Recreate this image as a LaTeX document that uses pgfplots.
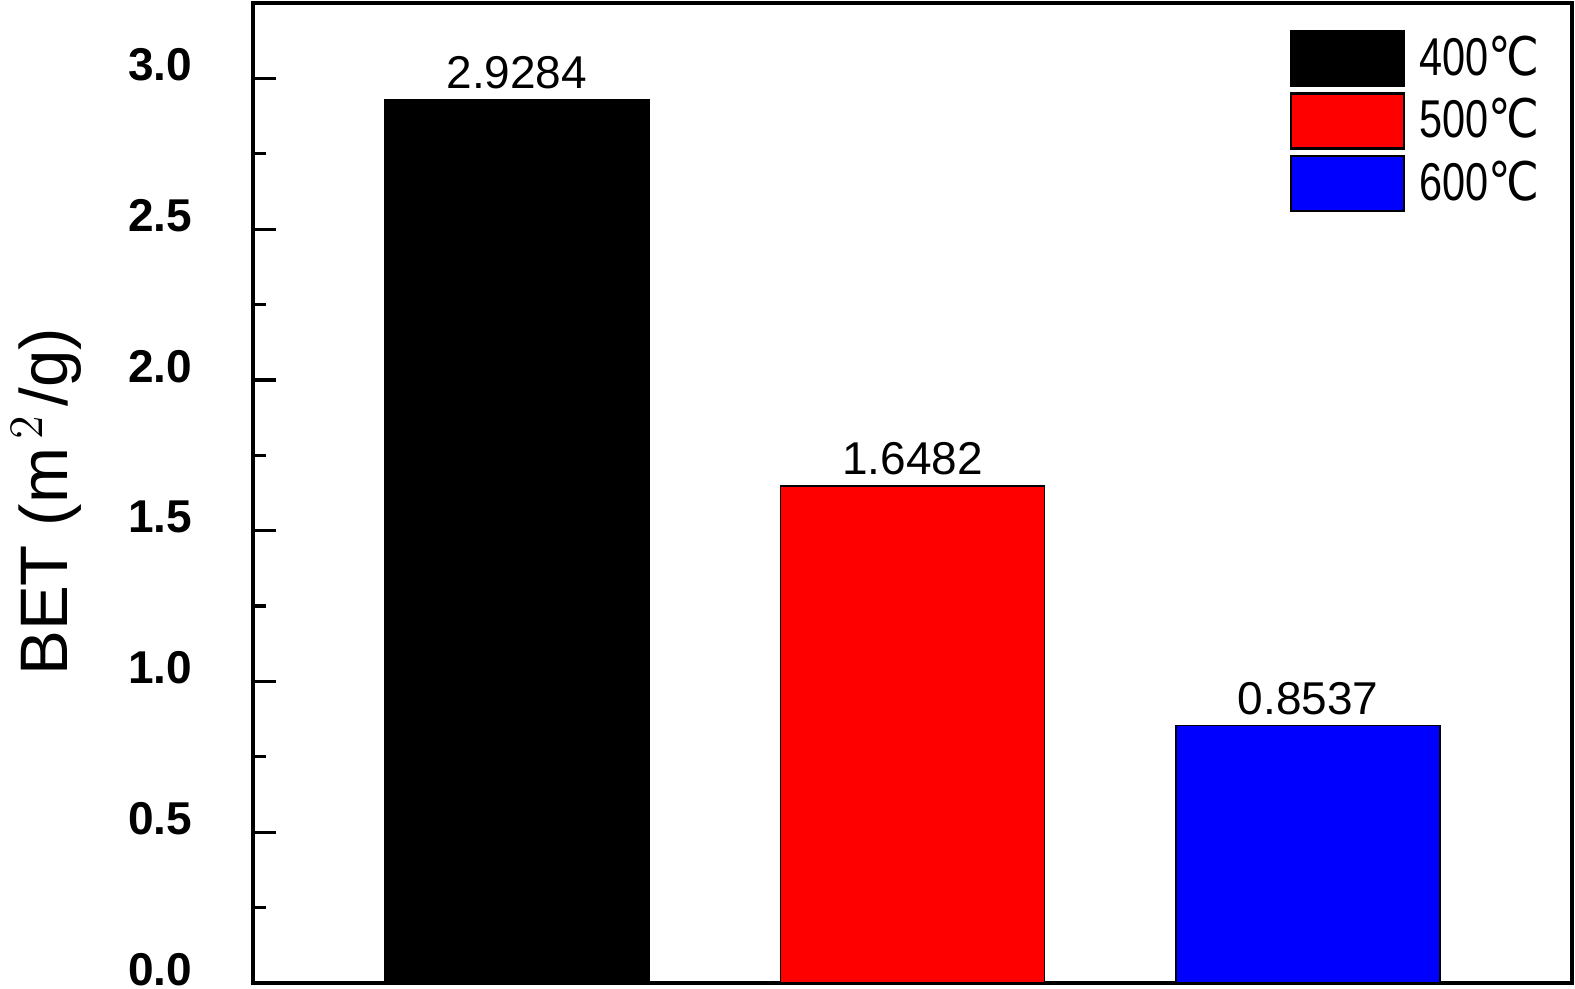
\documentclass[border=0pt]{standalone}
\usepackage{pgfplots}
\pgfplotsset{compat=1.18}
\usepackage{fontspec}
\setmainfont{Liberation Sans}
\newfontfamily\legfont[FakeStretch=0.78]{Liberation Sans}
\newfontfamily\degfont[FakeStretch=0.85]{DejaVu Sans}
\newcommand{\degC}{{\degfont ℃}}
\begin{document}
\begin{tikzpicture}
\begin{axis}[
  name=ax,
  scale only axis,
  width=329.75pt, height=245pt,
  xmin=0.3333, xmax=3.6667,
  ymin=0, ymax=3.25,
  axis line style={line width=1pt},
  xtick=\empty,
  ytick={0,0.5,1,1.5,2,2.5,3},
  minor y tick num=1,
  ytick pos=left,
  tick align=inside,
  major tick length=5.75pt,
  minor tick length=3.3pt,
  every tick/.style={line width=0.8pt, black},
  /pgf/number format/assume math mode=true,
  yticklabel={\pgfmathprintnumber[fixed,fixed zerofill,precision=1]{\tick}},
  yticklabel style={font=\fontsize{11.5}{13}\selectfont\bfseries, inner sep=0pt, xshift=-15pt, yshift=3.4pt},
  ylabel={BET (m$^{\,2\,}$/g)},
  ylabel style={font=\fontsize{16.8}{18}\selectfont, at={(axis description cs:-0.1403,0.491)}, anchor=base, rotate=0},
  ybar, bar width=0.667, bar shift=0pt,
  point meta=explicit symbolic,
  nodes near coords,
  every node near coord/.append style={font=\fontsize{11.5}{13}\selectfont, inner sep=0pt, yshift=2.5pt, anchor=south, black},
  legend image code/.code={\draw[#1, line width=0.6pt] (0pt,-6.875pt) rectangle (28.25pt,6.875pt);},
  legend style={draw=none, fill=none, inner sep=0pt, outer sep=0pt,
    at={(0.786,0.9724)}, anchor=north west,
    row sep=1.25pt, column sep=3.5pt,
    nodes={inner sep=0pt},
    font=\fontsize{13.3}{14}\selectfont\legfont},
  legend cell align=left,
]
\addplot[fill=black, draw=black, line width=0.4pt] coordinates {(1,2.9284) [2.9284]};
\addlegendentry{400\degC}
\addplot[fill=red, draw=black, line width=0.4pt] coordinates {(2,1.6482) [1.6482]};
\addlegendentry{500\degC}
\addplot[fill=blue, draw=black, line width=0.4pt] coordinates {(3,0.8537) [0.8537]};
\addlegendentry{600\degC}
\end{axis}
\pgfresetboundingbox
\path[use as bounding box] ([xshift=-63.25pt,yshift=-1.25pt]ax.south west) rectangle ([xshift=0.75pt,yshift=0.75pt]ax.north east);
\end{tikzpicture}
\end{document}
